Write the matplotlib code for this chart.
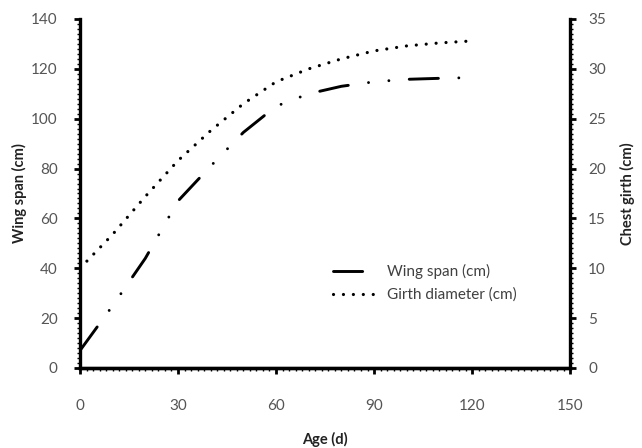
import matplotlib.pyplot as plt
from matplotlib.ticker import MultipleLocator

plt.rcParams['font.family'] = ['Lato', 'DejaVu Sans']

# ages (days)
age = [0, 10, 20, 30, 40, 50, 60, 70, 80, 90, 100, 110, 120]
# wing span, cm (left axis)
wing = [7, 25, 44, 67, 81, 94.5, 105, 110, 113, 114.8, 115.8, 116.2, 116.5]
# chest girth, cm (right axis)
girth = [10, 13.4, 17.2, 20.8, 23.8, 26.5, 28.7, 30.0, 31.0, 31.8, 32.3, 32.6, 32.8]

fig = plt.figure(figsize=(6.42, 4.48), dpi=100)
ax = fig.add_axes([0.1246, 0.1786, 0.7634, 0.779])
ax2 = ax.twinx()

l1, = ax.plot(age, wing, color='black', lw=2.1, dash_capstyle='round',
              linestyle=(0, (10, 7, 0.01, 7, 0.01, 7)), label='Wing span (cm)')
l2, = ax2.plot(age, girth, color='black', lw=2.3, dash_capstyle='round',
               linestyle=(0, (0.01, 3.1)), label='Girth diameter (cm)')

ax.set_xlim(0, 150)
ax.set_ylim(0, 140)
ax2.set_ylim(0, 35)
ax.set_xticks(range(0, 151, 30))
ax.set_yticks(range(0, 141, 20))
ax2.set_yticks(range(0, 36, 5))
ax.xaxis.set_minor_locator(MultipleLocator(2))
ax.yaxis.set_minor_locator(MultipleLocator(2))
ax2.yaxis.set_minor_locator(MultipleLocator(0.5))

for a in (ax, ax2):
    for s in a.spines.values():
        s.set_linewidth(2.4)
    a.spines['top'].set_visible(False)
    a.tick_params(which='major', length=4, width=2, colors='black',
                  labelcolor='#555555', labelsize=11)
    a.tick_params(which='minor', length=2.5, width=1, colors='black')
ax.spines['right'].set_visible(False)
ax2.spines['left'].set_visible(False)
ax.tick_params(axis='x', which='major', pad=18)
ax.tick_params(axis='y', which='major', pad=12)
ax2.tick_params(axis='y', which='major', pad=9)

ax.set_xlabel('Age (d)', fontsize=10.5, fontweight='bold', color='#222222', labelpad=14)
ax.set_ylabel('Wing span (cm)', fontsize=10.5, fontweight='bold', color='#222222', labelpad=3)
ax2.set_ylabel('Chest girth (cm)', fontsize=10.5, fontweight='bold', color='#222222',
               rotation=90, labelpad=10)

leg = ax2.legend(handles=[l1, l2], loc='upper left', bbox_to_anchor=(0.519, 0.41),
                 bbox_transform=fig.transFigure, frameon=False, fontsize=11,
                 borderaxespad=0, borderpad=0,
                 handlelength=3.0, handletextpad=0.5, labelspacing=0.55)
for t in leg.get_texts():
    t.set_color('#404040')

fig.savefig('out.png', dpi=100)
